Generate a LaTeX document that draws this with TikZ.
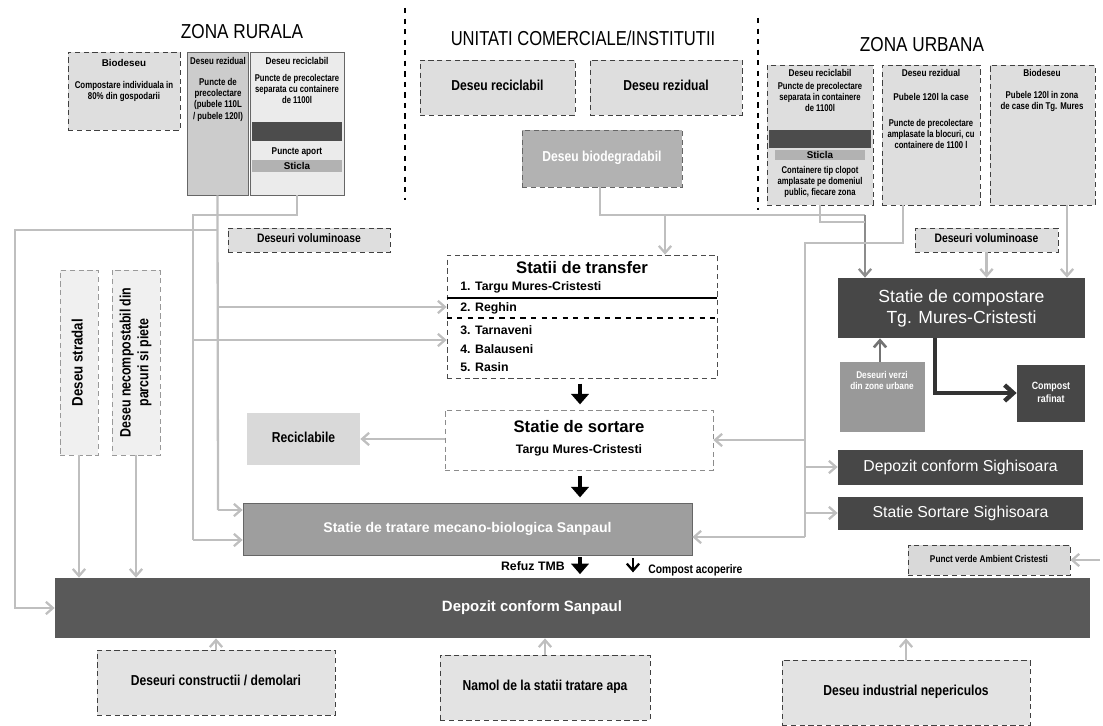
\documentclass[tikz,border=0pt]{standalone}
\usepackage{fontspec}
\setmainfont{Liberation Sans}
\usetikzlibrary{fit,arrows.meta}
\newcommand\cz[2][0.84]{\scalebox{#1}[1]{\begin{tabular}{@{}c@{}}#2\end{tabular}}}
\begin{document}
\begin{tikzpicture}[x=0.02cm,y=-0.02cm,
 gl/.style={draw=black!25, line width=1.3pt, -{Straight Barb[length=4pt,width=7pt]}},
 glno/.style={draw=black!25, line width=1.3pt},
 bk/.style={draw=black, line width=2.6pt, -{Triangle[length=6pt,width=10pt]}},
 fb/.style={inner sep=0pt},
 lbox/.style={fb, fill=black!13, draw=black!75, densely dashed, line width=0.5pt},
 dbox/.style={fb, fill=black!70, draw=none},
 sm/.style={font=\fontsize{5.6}{6.4}\selectfont\bfseries, align=center, inner sep=0pt},
 md/.style={font=\fontsize{7}{8.4}\selectfont\bfseries, inner sep=0pt},
 bg/.style={font=\fontsize{8.2}{9.5}\selectfont\bfseries, inner sep=0pt, align=center},
 ttl/.style={font=\fontsize{11.5}{13}\selectfont, inner sep=0pt},
 wt/.style={font=\fontsize{9}{11}\selectfont, text=white, align=center, inner sep=0pt},
 zone/.style={draw=black, dashed, line width=1pt}
]
\useasboundingbox (0,0) rectangle (1103,726);

% zone titles and separators
\node[ttl] (tr) at (242,32) {\scalebox{0.85}[1]{ZONA RURALA}};
\node[ttl] (tc) at (583,38) {\scalebox{0.82}[1]{UNITATI COMERCIALE/INSTITUTII}};
\node[ttl] (tu) at (922,45) {\scalebox{0.85}[1]{ZONA URBANA}};
\draw[zone] (405,8) -- (405,200);
\draw[zone] (758,18) -- (758,210);

% rural boxes
\node[lbox, fit={(68,52) (180,130)}] (r1) {};
\node[sm] (r1t) at (124,63) {Biodeseu};
\node[sm] (r1b) at (124,92) {\cz[0.8]{Compostare individuala in\\80\% din gospodarii}};
\node[fb, fill=black!20, draw=black!60, line width=0.5pt, fit={(187,52) (248,195)}] (r2) {};
\node[sm] (r2t) at (218,62) {\cz[0.8]{Deseu rezidual}};
\node[sm] (r2b) at (218,100) {\cz[0.8]{Puncte de\\precolectare\\(pubele 110L\\/ pubele 120l)}};
\node[fb, fill=black!8, draw=black!60, line width=0.5pt, fit={(250,52) (344,195)}] (r3) {};
\node[sm] (r3t) at (297,62) {\cz{Deseu reciclabil}};
\node[sm] (r3b) at (297,90) {\cz[0.78]{Puncte de precolectare\\separata cu containere\\de 1100l}};
\node[dbox, fit={(252,122) (342,141)}] (r3d) {};
\node[sm] (r3p) at (297,152) {\cz{Puncte aport}};
\node[fb, fill=black!30, fit={(252,160) (342,172)}] (r3s) {};
\node[sm] (r3st) at (r3s.center) {Sticla};

% commercial boxes
\node[lbox, fit={(420,60) (575,115)}] (c1) {};
\node[bg] (c1t) at (c1.center) {\cz{Deseu reciclabil}};
\node[lbox, fit={(590,60) (742,115)}] (c2) {};
\node[bg] (c2t) at (c2.center) {\cz{Deseu rezidual}};
\node[fb, fill=black!30, draw=black!60, densely dashed, fit={(522,130) (682,187)}] (c3) {};
\node[bg, text=white] (c3t) at (c3.center) {\cz{Deseu biodegradabil}};

% urban boxes
\node[lbox, fit={(767,65) (873,205)}] (u1) {};
\node[sm] (u1t) at (820,74) {\cz{Deseu reciclabil}};
\node[sm] (u1b) at (820,98) {\cz[0.78]{Puncte de precolectare\\separata in containere\\de 1100l}};
\node[dbox, fit={(769,130) (871,148)}] (u1d) {};
\node[fb, fill=black!30, fit={(775,150) (865,160)}] (u1s) {};
\node[sm] (u1st) at (u1s.center) {Sticla};
\node[sm] (u1c) at (820,182) {\cz[0.78]{Containere tip clopot\\amplasate pe domeniul\\public, fiecare zona}};
\node[lbox, fit={(882,65) (980,205)}] (u2) {};
\node[sm] (u2t) at (931,74) {\cz{Deseu rezidual}};
\node[sm] (u2a) at (931,98) {\cz{Pubele 120l la case}};
\node[sm] (u2b) at (931,135) {\cz[0.78]{Puncte de precolectare\\amplasate la blocuri, cu\\containere de 1100 l}};
\node[lbox, fit={(990,65) (1095,205)}] (u3) {};
\node[sm] (u3t) at (1042,74) {\cz{Biodeseu}};
\node[sm] (u3b) at (1042,102) {\cz[0.8]{Pubele 120l in zona\\de case din Tg. Mures}};

% voluminoase
\node[lbox, fit={(228,228) (390,252)}] (v1) {};
\node[md] (v1t) at (v1.center) {\cz{Deseuri voluminoase}};
\node[lbox, fit={(915,228) (1058,252)}] (v2) {};
\node[md] (v2t) at (v2.center) {\cz{Deseuri voluminoase}};

% vertical boxes
\node[lbox, draw=black!40, fill=black!6, fit={(60,270) (98,455)}] (s1) {};
\node[bg, font=\fontsize{8.6}{10}\selectfont\bfseries, rotate=90] (s1t) at (s1.center) {\cz[0.88]{Deseu stradal}};
\node[lbox, draw=black!40, fill=black!6, fit={(112,270) (160,455)}] (s2) {};
\node[bg, font=\fontsize{8.6}{10}\selectfont\bfseries, rotate=90] (s2t) at (s2.center) {\cz[0.82]{Deseu necompostabil din\\parcuri si piete}};

% transfer stations
\node[fb, draw=black!70, densely dashed, fill=white, fit={(447,255) (717,378)}] (tf) {};
\node[font=\fontsize{9.5}{11}\selectfont\bfseries, inner sep=0pt] (tft) at (582,268) {Statii de transfer};
\node[md, anchor=west] (tf1) at (460,287) {1. Targu Mures-Cristesti};
\draw[black, line width=1.2pt] (tf.west |- 0,298) -- (tf.east |- 0,298);
\node[md, anchor=west] (tf2) at (460,308) {2. Reghin};
\draw[black, dashed, line width=1pt] (tf.west |- 0,318) -- (tf.east |- 0,318);
\node[md, anchor=west] (tf3) at (460,330) {3. Tarnaveni};
\node[md, anchor=west] (tf4) at (460,349) {4. Balauseni};
\node[md, anchor=west] (tf5) at (460,367) {5. Rasin};

% sorting
\node[fb, draw=black!45, densely dashed, fill=white, fit={(445,410) (713,470)}] (so) {};
\node[font=\fontsize{9.5}{11}\selectfont\bfseries, inner sep=0pt] (sot) at (579,427) {Statie de sortare};
\node[md] (sob) at (579,450) {Targu Mures-Cristesti};
\node[fb, fill=black!15, fit={(247,413) (360,465)}] (rec) {};
\node[bg] (rect) at (rec.center) {\cz{Reciclabile}};

% TMB and landfill
\node[fb, fill=black!38, draw=black!60, fit={(243,503) (692,555)}] (tmb) {};
\node[wt, font=\fontsize{8}{10}\selectfont\bfseries] (tmbt) at (tmb.center) {Statie de tratare mecano-biologica Sanpaul};
\node[fb, fill=black!65, fit={(55,578) (1090,638)}] (sp) {};
\node[wt, font=\fontsize{8.5}{10}\selectfont\bfseries] (spt) at (532,608) {Depozit conform Sanpaul};

% bottom sources
\node[lbox, fill=black!11, fit={(97,650) (335,715)}] (b1) {};
\node[bg] (b1t) at (b1.center) {\cz{Deseuri constructii / demolari}};
\node[lbox, fill=black!11, fit={(440,655) (650,720)}] (b2) {};
\node[bg] (b2t) at (b2.center) {\cz{Namol de la statii tratare apa}};
\node[lbox, fill=black!11, fit={(782,660) (1030,725)}] (b3) {};
\node[bg] (b3t) at (b3.center) {\cz{Deseu industrial nepericulos}};

% right side
\node[dbox, fill=black!72, fit={(838,278) (1085,338)}] (cs) {};
\node[wt, font=\fontsize{10}{12}\selectfont] (cst) at (cs.center) {Statie de compostare\\Tg. Mures-Cristesti};
\node[fb, fill=black!40, fit={(840,362) (925,432)}] (vz) {};
\node[sm, text=white] (vzt) at (882,382) {\cz{Deseuri verzi\\din zone urbane}};
\node[dbox, fill=black!72, fit={(1017,365) (1085,422)}] (cr) {};
\node[sm, text=white, font=\fontsize{6}{7}\selectfont\bfseries] (crt) at (cr.center) {\cz{Compost\\rafinat}};
\node[dbox, fill=black!72, fit={(838,450) (1083,485)}] (ds) {};
\node[wt] (dst) at (ds.center) {Depozit conform Sighisoara};
\node[dbox, fill=black!72, fit={(838,497) (1083,530)}] (ss) {};
\node[wt] (sst) at (ss.center) {Statie Sortare Sighisoara};
\node[lbox, fill=black!15, fit={(908,545) (1070,575)}] (pv) {};
\node[sm] (pvt) at (pv.center) {\cz{Punct verde Ambient Cristesti}};

% ---------- connectors ----------
% rural
\coordinate (kL) at (15,230);
\coordinate (k2) at (218,230);
\coordinate (k2b) at (218,510);
\coordinate (k2t) at (218,307);
\coordinate (k3a) at (297,215);
\coordinate (k3b) at (193,215);
\coordinate (k3c) at (193,540);
\coordinate (k3t) at (193,340);
\draw[glno] (r2.south) -- (k2b);
\draw[gl] (k2b) -- (k2b -| tmb.west);
\draw[gl] (k2t) -- (k2t -| tf.west);
\draw[gl] (k2) -- (kL) |- (sp.west);
\draw[glno] (r3.south) -- (k3a) -- (k3b) -- (k3c);
\draw[gl] (k3c) -- (k3c -| tmb.west);
\draw[gl] (k3t) -- (k3t -| tf.west);

% street / parks
\draw[gl] (s1.south) -- (s1.south |- sp.north);
\draw[gl] (s2.south) -- (s2.south |- sp.north);

% commercial
\coordinate (kc1) at (600,215);
\coordinate (kc2) at (865,215);
\coordinate (kc3) at (665,215);
\draw[glno] (c3.south -| kc1) -- (kc1) -- (kc2);
\draw[gl, draw=black!45] (kc2) -- (kc2 |- cs.north);
\draw[gl] (kc3) -- (kc3 |- tf.north);

% urban
\coordinate (ku1) at (820,222);
\coordinate (kv) at (805,243);
\coordinate (kv2) at (805,537);
\coordinate (ku2) at (903,243);
\coordinate (ku3) at (1067,205);
\draw[glno] (u1.south) -- (ku1) -- (ku1 -| kc2);
\draw[glno] (ku2 |- u2.south) -- (ku2) -- (kv) -- (kv2);
\draw[gl] (kv2) -- (kv2 -| tmb.east);
\draw[gl] (805,467) -- (805,467 -| ds.west);
\draw[gl] (805,513) -- (805,513 -| ss.west);
\draw[gl] (805,440) -- (805,440 -| so.east);
\draw[gl] (ku3) -- (ku3 |- cs.north);
\draw[gl] (v2.south) -- (v2.south |- cs.north);

% sorting to recyclables
\draw[gl] (so.west |- rec.east) -- (rec.east);

% main flow
\draw[bk, shorten <=3pt, shorten >=3pt] (tf.south -| 580,0) -- (so.north -| 580,0);
\draw[bk, shorten <=3pt, shorten >=3pt] (so.south -| 580,0) -- (tmb.north -| 580,0);
\draw[bk, shorten <=1pt, shorten >=2pt] (tmb.south -| 580,0) -- (sp.north -| 580,0);
\node[md, anchor=east] (rz) at (565,566) {Refuz TMB};
\coordinate (ca) at (633,558);
\draw[draw=black, line width=1.3pt, -{Straight Barb[length=4pt,width=7pt]}, shorten >=3pt] (ca) -- (ca |- sp.north);
\node[md, anchor=west] (cat) at (648,571) {\cz{Compost acoperire}};

% compost
\draw[draw=black!55, line width=1.5pt, -{Straight Barb[length=4pt,width=7pt]}] (vz.north -| 880,0) -- (cs.south -| 880,0);
\coordinate (kr) at (935,393);
\draw[draw=black!80, line width=2.5pt, -{Straight Barb[length=5pt,width=9pt]}] (cs.south -| kr) -- (kr) -- (kr -| cr.west);
\coordinate (kp) at (1100,560);
\draw[gl] (kp) -- (kp -| pv.east);

% bottom sources
\draw[gl] (b1.north) -- (b1.north |- sp.south);
\draw[gl] (b2.north) -- (b2.north |- sp.south);
\draw[gl] (b3.north) -- (b3.north |- sp.south);
\end{tikzpicture}
\end{document}
